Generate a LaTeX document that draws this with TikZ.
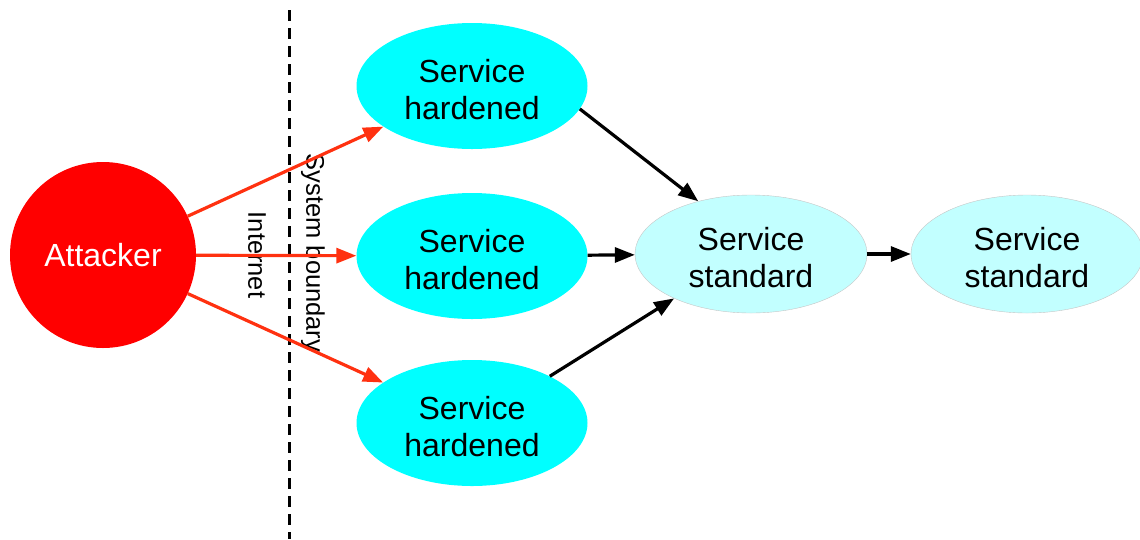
\documentclass[tikz,border=0pt]{standalone}
\usepackage{fontspec}
\setmainfont{Liberation Sans}
\usetikzlibrary{shapes.geometric,arrows.meta}
\definecolor{hardcyan}{HTML}{00FFFF}
\definecolor{stdcyan}{HTML}{C2FFFF}
\definecolor{attackred}{HTML}{FF0000}
\definecolor{arrowred}{HTML}{FF3110}
\newcommand{\toplift}{\rule{0pt}{31pt}}
\tikzset{
  hardened/.style={ellipse, fill=hardcyan, inner sep=0pt, minimum width=231pt, minimum height=126pt,
    align=center, font=\fontsize{32}{37}\selectfont},
  standardsvc/.style={ellipse, fill=stdcyan, draw=gray!45, line width=0.4pt, inner sep=0pt,
    minimum width=232pt, minimum height=118pt, align=center, font=\fontsize{32}{37}\selectfont},
  attackarrow/.style={draw=arrowred, line width=3.2pt, -{Triangle[length=20pt,width=15pt]}},
  flowarrow/.style={draw=black, line width=3.2pt, -{Triangle[length=20pt,width=15pt]}},
  sidelabel/.style={rotate=-90, font=\fontsize{25.5}{28}\selectfont, inner sep=0pt},
}
\begin{document}
\begin{tikzpicture}[x=1pt,y=-1pt]
\useasboundingbox (0,0) rectangle (1140,539);

% boundary between the internet and the system
\coordinate (bt) at (289,10);
\coordinate (bb) at (289,539);
\draw[line width=3pt, dash pattern=on 11pt off 7pt] (bt) -- (bb);
\node[sidelabel] (inet) at (257,255) {Internet};
\node[sidelabel] (sysb) at (313,253) {System boundary};

% attacker
\node[circle, fill=attackred, minimum size=186pt, inner sep=0pt, text=white,
  font=\fontsize{32}{37}\selectfont] (att) at (103,255) {Attacker};

% hardened entry services
\node[hardened] (h1) at (472,86) {\toplift Service\\hardened};
\node[hardened] (h2) at (472,256) {\toplift Service\\hardened};
\node[hardened] (h3) at (472,423) {\toplift Service\\hardened};

% internal standard services
\node[standardsvc] (s1) at (751,254) {\toplift Service\\standard};
\node[standardsvc] (s2) at (1027,254) {\toplift Service\\standard};

% attack paths
\draw[attackarrow] (att) -- (h1);
\draw[attackarrow] (att) -- (h2);
\draw[attackarrow] (att) -- (h3);

% internal flows
\draw[flowarrow] (h1.-12) -- (s1.135);
\draw[flowarrow] (h2) -- (s1);
\draw[flowarrow] (h3.31) -- (s1.210);
\draw[flowarrow] (s1) -- (s2);
\end{tikzpicture}
\end{document}
